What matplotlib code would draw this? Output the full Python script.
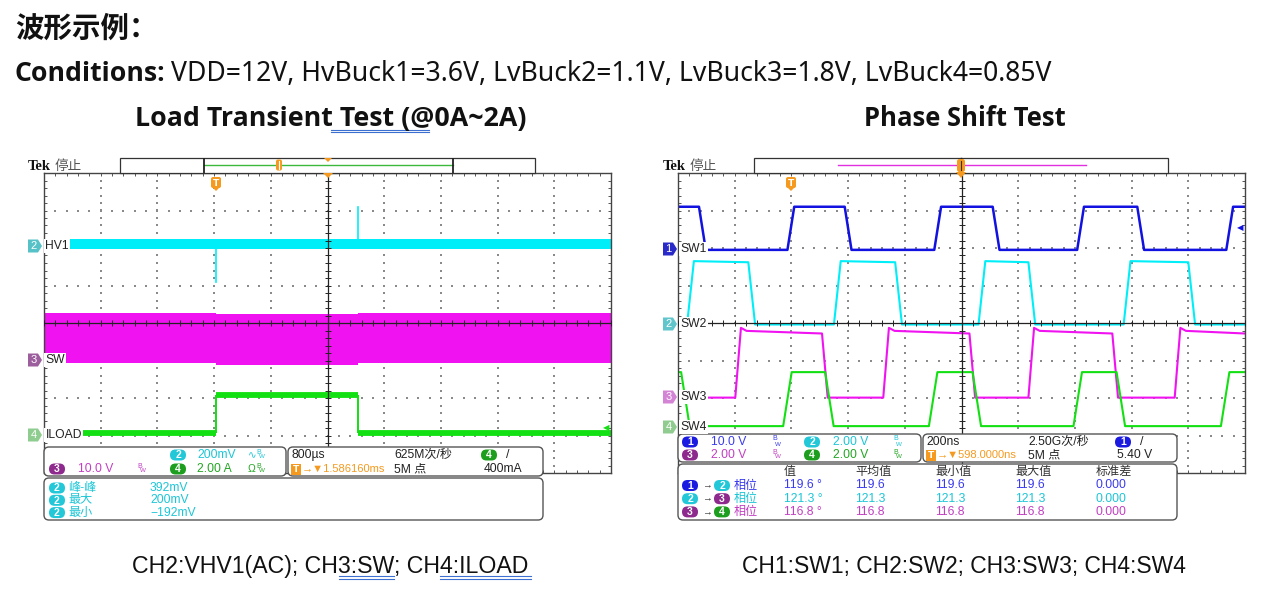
import numpy as np
import matplotlib.pyplot as plt
from matplotlib.patches import FancyBboxPatch, Polygon, Rectangle

W, H = 1261, 592

# ---- Load Transient scope (x: divisions 0..10, y: divisions 0..8) ----
hv1_level = 6.11
hv1_half = 0.14
hv1_dip = (3.03, 5.10)
hv1_spike = (5.53, 7.09)
sw_x = [0.0, 3.03, 5.53, 10.0]
sw_top = [4.27, 4.23, 4.27]
sw_bot = [2.94, 2.88, 2.94]
iload_low, iload_high = 1.06, 2.08
iload_on, iload_off = 3.03, 5.53

# ---- Phase Shift scope: edge positions (div) and levels ----
ch1_edges = [0.43, 1.99, 3.00, 4.58, 5.61, 7.10, 8.16, 9.73]
ch2_edges = [0.22, 1.30, 2.81, 3.89, 5.36, 6.24, 7.92, 9.06]
ch3_edges = [1.06, 2.59, 3.67, 5.19, 6.23, 7.71, 8.81]
ch4_edges = [0.13, 1.93, 2.67, 4.50, 5.27, 7.05, 7.81, 9.65]
ch1_hi, ch1_lo = 7.10, 5.95
ch2_hi, ch2_lo = 5.65, 3.96
ch3_hi, ch3_lo = 3.79, 2.01
ch4_hi, ch4_lo = 2.69, 1.25

# readouts
phase_rows = [("1", "2", "119.6", "119.6", "119.6", "119.6", "0.000"),
              ("2", "3", "121.3", "121.3", "121.3", "121.3", "0.000"),
              ("3", "4", "116.8", "116.8", "116.8", "116.8", "0.000")]
meas_left = [("峰-峰", "392mV"), ("最大", "200mV"), ("最小", "−192mV")]

C_BLUE, C_CYAN, C_MAG, C_GREEN = "#1212e0", "#00eef8", "#f012f0", "#12e012"
B_BLUE, B_CYAN, B_PURP, B_GREEN = "#1a1ae0", "#22c8d8", "#8e2a8e", "#1e9e1e"
T_BLUE, T_CYAN, T_PURP, T_GREEN = "#3a3aee", "#1cc6d6", "#c23ec2", "#22a622"
ORANGE = "#f59a1e"
SCOPE_FONT = ["Liberation Sans", "Noto Sans CJK SC", "DejaVu Sans"]

fig = plt.figure(figsize=(W / 100, H / 100), dpi=100)
renderer = fig.canvas.get_renderer()


def px_axes(x0, y0, x1, y1):
    return fig.add_axes([x0 / W, 1 - y1 / H, (x1 - x0) / W, (y1 - y0) / H])


def graticule(ax):
    ax.set_xlim(0, 10)
    ax.set_ylim(0, 8)
    ax.set_xticks([])
    ax.set_yticks([])
    ax.set_xticks(np.arange(0, 10.01, 0.2), minor=True)
    ax.set_yticks(np.arange(0, 8.01, 0.2), minor=True)
    ax.tick_params(which="both", direction="in", length=2.2, width=0.7, color="#555",
                   top=True, right=True, labelbottom=False, labelleft=False)
    for s in ax.spines.values():
        s.set_color("#444")
        s.set_linewidth(1.0)
    fine_y = np.arange(0.2, 8, 0.2)
    fine_x = np.arange(0.2, 10, 0.2)
    for gx in [1, 2, 3, 4, 6, 7, 8, 9]:
        ax.scatter(np.full(fine_y.size, gx), fine_y, s=0.7, marker="s", color="#8a8a8a", lw=0, zorder=1)
    for gy in [1, 2, 3, 5, 6, 7]:
        ax.scatter(fine_x, np.full(fine_x.size, gy), s=0.7, marker="s", color="#8a8a8a", lw=0, zorder=1)
    ax.axvline(5, color="#222", lw=0.9, zorder=5)
    ax.axhline(4, color="#222", lw=0.9, zorder=5)
    ax.plot(np.arange(0, 10.01, 0.2), np.full(51, 4.0), ls="none", marker="|", ms=4, mew=0.7, color="#222", zorder=5)
    ax.plot(np.full(41, 5.0), np.arange(0, 8.01, 0.2), ls="none", marker="_", ms=4, mew=0.7, color="#222", zorder=5)


def square(edges, start_high, hi, lo, w, overshoot=0.0, droop=0.0):
    level = start_high
    xs, ys = [0.0], [hi if level else lo]
    for e in edges:
        if level:
            xs += [e - w / 2, e + w / 2]
            ys += [hi - droop, lo]
        else:
            xs += [e - w / 2, e + w / 2]
            ys += [lo, hi + overshoot]
            if overshoot:
                xs.append(e + w / 2 + 0.1)
                ys.append(hi)
        level = not level
    xs.append(10.0)
    ys.append(hi - droop if level else lo)
    return xs, ys


# ---------------- left scope ----------------
axL = px_axes(44, 173, 611, 473)
graticule(axL)
axL.fill_between(sw_x, sw_bot + [sw_bot[-1]], sw_top + [sw_top[-1]], step="post", color=C_MAG, lw=0, zorder=2)
axL.fill_between([0, 10], hv1_level - hv1_half, hv1_level + hv1_half, color=C_CYAN, lw=0, zorder=2)
axL.plot([hv1_dip[0], hv1_dip[0]], [hv1_level, hv1_dip[1]], color=C_CYAN, lw=1.2, zorder=2)
axL.plot([hv1_spike[0], hv1_spike[0]], [hv1_level, hv1_spike[1]], color=C_CYAN, lw=1.2, zorder=2)
axL.hlines([iload_low, iload_high, iload_low], [0, iload_on, iload_off], [iload_on, iload_off, 10],
           color=C_GREEN, lw=4.2, zorder=2)
axL.vlines([iload_on, iload_off], iload_low, iload_high, color=C_GREEN, lw=1.4, zorder=2)

# ---------------- right scope ----------------
axR = px_axes(678, 173, 1245, 473)
graticule(axR)
x1, y1 = square(ch1_edges, True, ch1_hi, ch1_lo, 0.12)
x2, y2 = square(ch2_edges, False, ch2_hi, ch2_lo, 0.12, droop=0.03)
x3, y3 = square(ch3_edges, False, ch3_hi, ch3_lo, 0.10, overshoot=0.08, droop=0.07)
x4, y4 = square(ch4_edges, True, ch4_hi, ch4_lo, 0.15)
axR.plot(x1, y1, color=C_BLUE, lw=1.8, zorder=2)
axR.plot(x2, y2, color=C_CYAN, lw=1.5, zorder=2)
axR.plot(x3, y3, color=C_MAG, lw=1.5, zorder=2)
axR.plot(x4, y4, color=C_GREEN, lw=1.5, zorder=2)

# ---------------- overlay in pixel coordinates ----------------
ov = fig.add_axes([0, 0, 1, 1])
ov.set_xlim(0, W)
ov.set_ylim(H, 0)
ov.axis("off")
ov.patch.set_alpha(0)
ov.set_zorder(10)


def stxt(x, y, s, color="#222", size=8.7, **kw):
    return ov.text(x, y, s, color=color, fontsize=size, family=SCOPE_FONT, ha="left", va="center", zorder=7, **kw)


def badge(x, y, n, color):
    ov.add_patch(FancyBboxPatch((x - 8, y - 5.5), 16, 11, boxstyle="round,pad=0,rounding_size=5.5",
                                fc=color, ec="none", zorder=6))
    ov.text(x, y + 0.3, n, color="white", fontsize=7.5, fontweight="bold", ha="center", va="center",
            family="Liberation Sans", zorder=7)


def bw(x, y, color, prefix=""):
    if prefix:
        stxt(x, y, prefix, color, size=7.5)
        x += 8
    stxt(x, y - 3, "B", color, size=5)
    stxt(x + 3, y + 2, "W", color, size=4.5)


def rbox(x0, y0, x1, y1):
    ov.add_patch(FancyBboxPatch((x0, y0), x1 - x0, y1 - y0, boxstyle="round,pad=0,rounding_size=5",
                                fc="white", ec="#555", lw=1.0, zorder=4))


def ch_marker(x0, y, n, fc, tc, label):
    ov.add_patch(Polygon([(x0, y - 6.5), (x0 + 10, y - 6.5), (x0 + 14, y), (x0 + 10, y + 6.5), (x0, y + 6.5)],
                         closed=True, fc=fc, ec="none", zorder=6))
    ov.text(x0 + 5.5, y + 0.3, n, color=tc, fontsize=8, ha="center", va="center", family="Liberation Sans", zorder=7)
    stxt(x0 + 17.5, y, label, "#222", size=8.7,
         bbox=dict(boxstyle="square,pad=0.1", fc="white", ec="none"))


def tmark(x, y):
    ov.add_patch(FancyBboxPatch((x - 5, y - 6), 10, 11, boxstyle="round,pad=0,rounding_size=2",
                                fc=ORANGE, ec="none", zorder=6))
    ov.add_patch(Polygon([(x - 3, y + 5), (x + 3, y + 5), (x, y + 8)], fc=ORANGE, ec="none", zorder=6))
    ov.text(x, y, "T", color="white", fontsize=6.5, fontweight="bold", ha="center", va="center", zorder=7)


def tbox(x, y):
    ov.add_patch(Rectangle((x - 5, y - 5.5), 10, 11, fc=ORANGE, ec="none", zorder=6))
    ov.text(x, y, "T", color="white", fontsize=6.5, fontweight="bold", ha="center", va="center", zorder=7)


def fit(x, y, s, width, fs, **kw):
    t = ov.text(x, y, s, fontsize=fs, **kw)
    t.set_fontsize(fs * width / t.get_window_extent(renderer).width)
    return t


def header(xs, xbox0, xbox1, inner, line_color):
    ov.text(xs, 170, "Tek", fontsize=10.5, fontweight="bold", family="Liberation Serif",
            va="baseline", color="#111")
    ov.text(xs + 27, 170, "停止", fontsize=9.8, family="Noto Sans CJK SC", va="baseline", color="#555")
    ov.add_patch(Rectangle((xbox0, 158), xbox1 - xbox0, 14.5, fc="white", ec="#333", lw=0.9, zorder=3))
    ov.plot(inner, [165, 165], color=line_color, lw=1.0, zorder=4)


# headers
header(28, 120, 535, [204, 453], "#3cb83c")
ov.vlines([204, 453], 158, 172.5, color="#222", lw=1.3, zorder=4)
ov.add_patch(FancyBboxPatch((276, 159.5), 6, 11, boxstyle="round,pad=0,rounding_size=2", fc=ORANGE, ec="none", zorder=5))
ov.plot([279, 279], [161, 169], color="white", lw=0.8, zorder=6)
ov.add_patch(Polygon([(324, 158), (332, 158), (328, 162)], fc=ORANGE, ec="none", zorder=5))
ov.add_patch(Polygon([(323, 173), (333, 173), (328, 178)], fc=ORANGE, ec="none", zorder=11))

header(663, 754, 1168, [838, 1086], "#e030e0")
ov.plot([961, 961], [158, 173], color="#222", lw=1.0, zorder=4)
ov.add_patch(FancyBboxPatch((957, 159), 8, 13, boxstyle="round,pad=0,rounding_size=2.5", fc=ORANGE, ec="none", zorder=5))
ov.plot([961, 961], [161, 170], color="#333", lw=0.8, zorder=6)
ov.add_patch(Polygon([(956, 172), (966, 172), (961, 178)], fc=ORANGE, ec="none", zorder=11))

tmark(216, 183)
tmark(791, 183)

# channel markers
ch_marker(28, 246, "2", "#56c2c8", "white", "HV1")
ch_marker(28, 360, "3", "#9c5e9c", "white", "SW")
ch_marker(28, 435, "4", "#8fcc8f", "white", "ILOAD")
ch_marker(663, 249, "1", "#2a2ac8", "white", "SW1")
ch_marker(663, 324, "2", "#60c6cc", "white", "SW2")
ch_marker(663, 397, "3", "#d484d4", "white", "SW3")
ch_marker(663, 427, "4", "#90cc90", "white", "SW4")
ov.text(606, 428, "◀", color=C_GREEN, fontsize=6, ha="center", va="center", family="DejaVu Sans", zorder=7)
ov.text(1240, 228, "◀", color=C_BLUE, fontsize=6, ha="center", va="center", family="DejaVu Sans", zorder=7)

# ---- left readouts ----
rbox(44, 447, 286, 476)
rbox(288, 447, 543, 476)
rbox(44, 478, 543, 520)
badge(178, 455, "2", B_CYAN)
stxt(197, 455, "200mV", T_CYAN)
bw(248, 455, T_CYAN, "∿")
badge(57, 469, "3", B_PURP)
stxt(78, 469, "10.0 V", T_PURP)
bw(137, 469, T_PURP)
badge(178, 469, "4", B_GREEN)
stxt(197, 469, "2.00 A", T_GREEN)
bw(248, 469, T_GREEN, "Ω")
stxt(292, 455, "800µs")
stxt(394, 455, "625M次/秒")
badge(489, 455, "4", B_GREEN)
stxt(506, 455, "/", size=9)
tbox(296, 469)
stxt(302, 469, "→▼1.586160ms", ORANGE, size=8.0)
stxt(394, 469, "5M 点")
stxt(484, 469, "400mA")
for i, (name, val) in enumerate(meas_left):
    y = 488 + 12.3 * i
    badge(57, y, "2", B_CYAN)
    stxt(68, y, name, T_CYAN)
    stxt(150, y, val, T_CYAN)

# ---- right readouts ----
rbox(678, 434, 921, 462)
rbox(923, 434, 1177, 462)
rbox(678, 464, 1177, 520)
badge(690, 442, "1", B_BLUE)
stxt(711, 442, "10.0 V", T_BLUE)
bw(772, 442, T_BLUE)
badge(812, 442, "2", B_CYAN)
stxt(833, 442, "2.00 V", T_CYAN)
bw(893, 442, T_CYAN)
badge(690, 455, "3", B_PURP)
stxt(711, 455, "2.00 V", T_PURP)
bw(772, 455, T_PURP)
badge(812, 455, "4", B_GREEN)
stxt(833, 455, "2.00 V", T_GREEN)
bw(893, 455, T_GREEN)
stxt(926, 442, "200ns")
stxt(1028, 442, "2.50G次/秒")
badge(1123, 442, "1", B_BLUE)
stxt(1140, 442, "/", size=9)
tbox(931, 455)
stxt(937, 455, "→▼598.0000ns", ORANGE, size=8.0)
stxt(1028, 455, "5M 点")
stxt(1117, 455, "5.40 V")
cols = [784, 855, 935, 1015, 1096]
for cx, name in zip(cols, ["值", "平均值", "最小值", "最大值", "标准差"]):
    stxt(cx, 472, name, "#333")
row_badge = {"1": B_BLUE, "2": B_CYAN, "3": B_PURP, "4": B_GREEN}
row_text = {"1": T_BLUE, "2": T_CYAN, "3": T_PURP}
for i, (a, b, v, mean, vmin, vmax, sd) in enumerate(phase_rows):
    y = 485.5 + 13.2 * i
    c = row_text[a]
    badge(690, y, a, row_badge[a])
    stxt(702, y, "→", "#333", size=7)
    badge(722, y, b, row_badge[b])
    stxt(734, y, "相位", c)
    stxt(cols[0], y, v + " °", c)
    for cx, s in zip(cols[1:], [mean, vmin, vmax, sd]):
        stxt(cx, y, s, c)

# ---- document text ----
ov.text(15, 29, "波形示例：", fontsize=20.5, fontweight="bold", family="Noto Sans CJK SC",
        va="center", ha="left", color="#111")


def cond_line(fs):
    t1 = ov.text(15, 81, "Conditions:", fontsize=fs, fontweight="bold", family="Open Sans",
                 va="baseline", ha="left", color="#111")
    w1 = t1.get_window_extent(renderer).width
    t2 = ov.text(15 + w1 + 0.3 * fs, 81,
                 "VDD=12V, HvBuck1=3.6V, LvBuck2=1.1V, LvBuck3=1.8V, LvBuck4=0.85V",
                 fontsize=fs, family="Noto Sans", va="baseline", ha="left", color="#111")
    return t1, t2


t1, t2 = cond_line(16)
right = t2.get_window_extent(renderer).x1
fs = 16 * (1052 - 15) / (right - 15)
t1.remove()
t2.remove()
cond_line(fs)

fit(135, 126, "Load Transient Test (@0A~2A)", 392, 16, fontweight="bold", family="Open Sans",
    va="baseline", ha="left", color="#111")
fit(864, 126, "Phase Shift Test", 202, 16, fontweight="bold", family="Open Sans",
    va="baseline", ha="left", color="#111")
fit(132, 573, "CH2:VHV1(AC); CH3:SW; CH4:ILOAD", 398, 16, family="Liberation Sans",
    va="baseline", ha="left", color="#111")
fit(742, 573, "CH1:SW1; CH2:SW2; CH3:SW3; CH4:SW4", 446, 16, family="Liberation Sans",
    va="baseline", ha="left", color="#111")

# proofing underlines
for xa, xb, ya in [(331, 429, 129.5), (339, 394, 576), (440, 531, 576)]:
    ov.plot([xa, xb], [ya, ya], color="#3c6fd0", lw=0.8)
    ov.plot([xa, xb], [ya + 2.8, ya + 2.8], color="#3c6fd0", lw=0.8)

fig.savefig("out.png", dpi=100)
